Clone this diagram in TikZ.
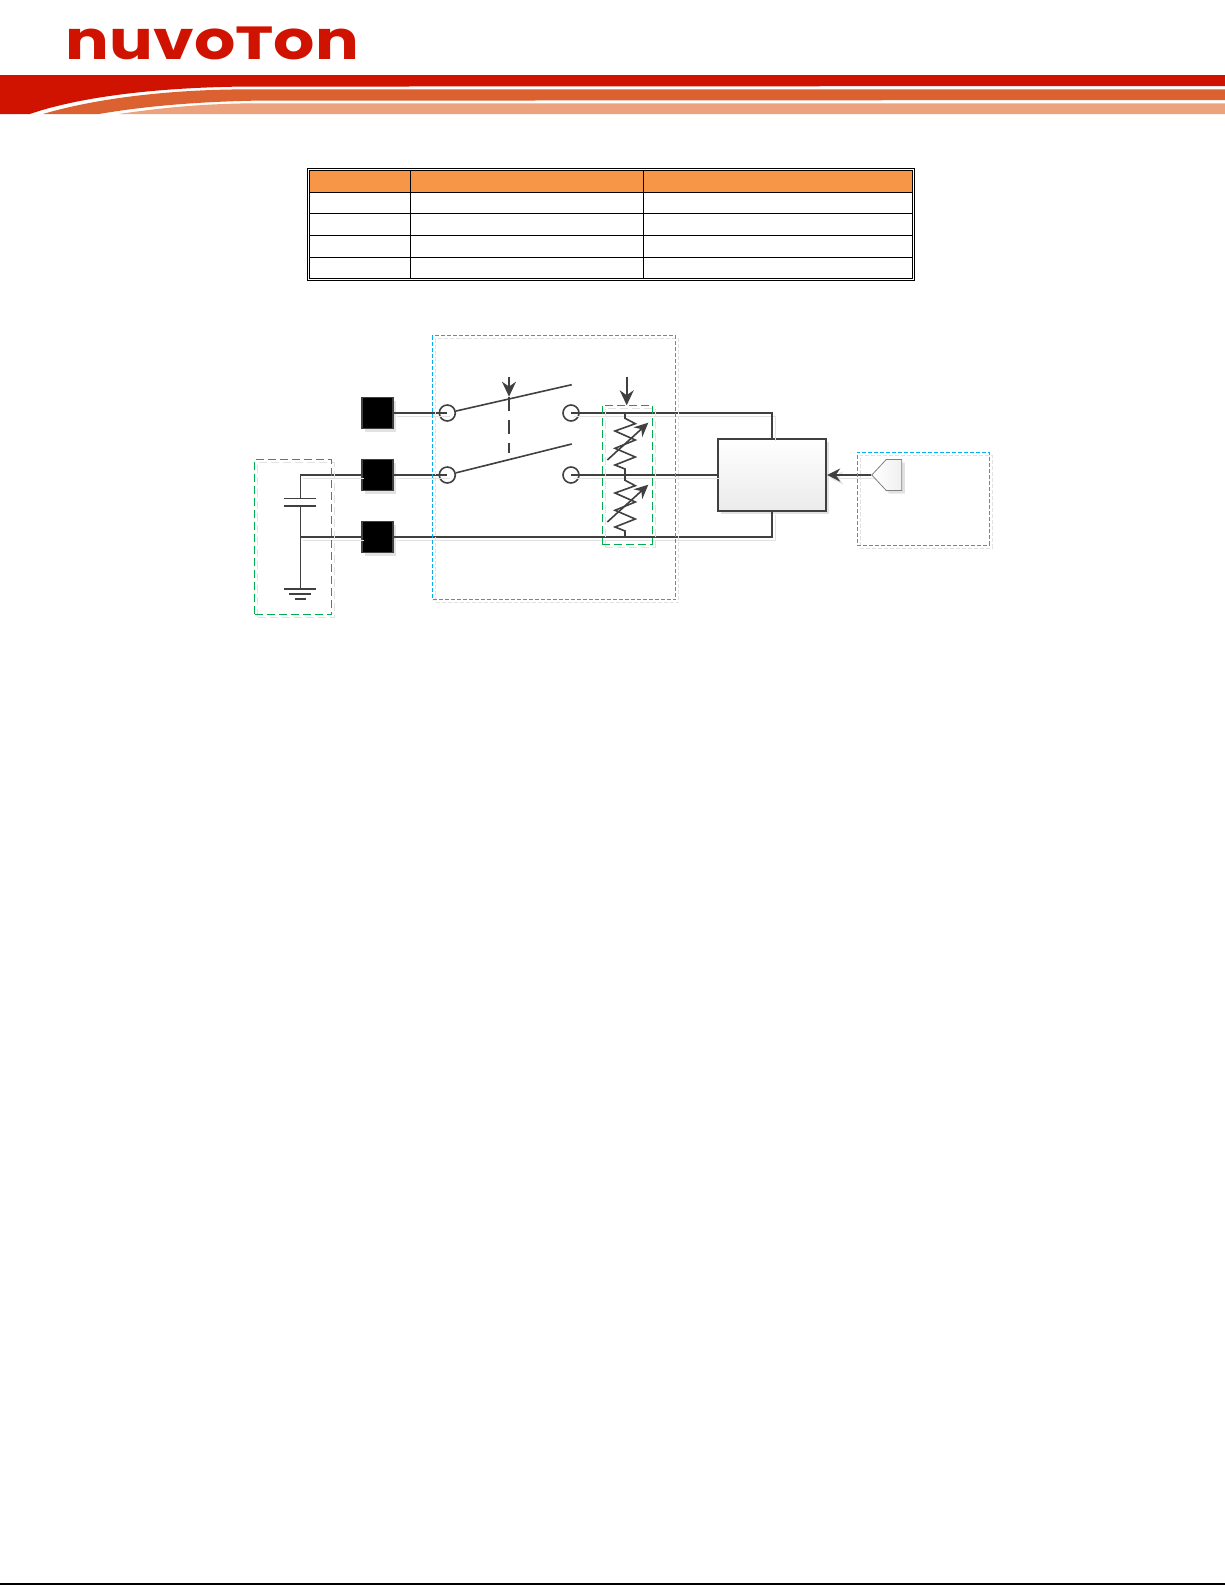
\documentclass[tikz,border=0pt]{standalone}
\usepackage{fontspec}
\newfontfamily\logofont{Poppins}
\usepackage{tikz}
\usetikzlibrary{arrows.meta}
\usetikzlibrary{shapes.symbols}
\definecolor{brandred}{HTML}{D01200}
\definecolor{brandmid}{HTML}{DB6230}
\definecolor{brandpale}{HTML}{ECA27C}
\definecolor{wirecol}{HTML}{404040}
\definecolor{shadecol}{HTML}{E2E2E2}
\definecolor{headcol}{HTML}{F79646}
\definecolor{groupblue}{HTML}{00B0F0}
\definecolor{groupgreen}{HTML}{00B050}
\tikzstyle{shade line}=[preaction={draw=shadecol,transform canvas={xshift=3pt,yshift=-3pt}}]
\tikzstyle{wire}=[draw=wirecol,line width=2.2pt,shade line]
\tikzstyle{thinwire}=[draw=wirecol,line width=1.6pt]
\tikzstyle{pad}=[draw=wirecol,fill=black,line width=1.8pt,minimum size=31pt,inner sep=0pt,
  preaction={fill=shadecol,transform canvas={xshift=3pt,yshift=-3pt}}]
\tikzstyle{contact}=[circle,draw=wirecol,line width=1.6pt,minimum size=16pt,inner sep=0pt]
\tikzstyle{blockbox}=[draw=wirecol,line width=1.8pt,top color=white,bottom color=black!8,
  minimum width=108pt,minimum height=72pt,inner sep=0pt,
  preaction={fill=shadecol,transform canvas={xshift=3pt,yshift=-3pt}}]
\tikzstyle{bluegroup}=[draw=groupblue,line width=0.9pt,dash pattern=on 4pt off 2pt,inner sep=0pt,
  preaction={draw=shadecol,dash pattern=on 4pt off 2pt,transform canvas={xshift=3pt,yshift=-3pt}}]
\tikzstyle{greengroup}=[draw=groupgreen,line width=0.9pt,dash pattern=on 8pt off 4pt,inner sep=0pt,
  preaction={draw=shadecol,dash pattern=on 8pt off 4pt,transform canvas={xshift=3pt,yshift=-3pt}}]
\tikzstyle{plate}=[draw=wirecol,line width=1.2pt]
\tikzstyle{ctrl}=[-{Stealth[length=15pt,width=14pt]},wirecol,line width=1.6pt]
\begin{document}
\begin{tikzpicture}[x=1pt,y=-1pt]
\useasboundingbox (0,0) rectangle (1225,1585);
% page head
\fill[brandred] (0,75) -- (1225,75) -- (1225,86) -- (240,86.6) .. controls (140,88) and (70,100) .. (30,114) -- (0,114) -- cycle;
\fill[brandmid] (43,114) .. controls (90,100) and (160,90) .. (240,89.4) -- (1225,89.3) -- (1225,100) -- (253,100.7) .. controls (190,102) and (140,107) .. (99,114) -- cycle;
\fill[brandpale] (119,114) .. controls (160,108) and (200,103.8) .. (253,103.3) -- (1225,103.3) -- (1225,114) -- cycle;
\node [inner sep=0pt,text=brandred] (logo) at (212.5,43) {\resizebox{293pt}{32.6pt}{\logofont\bfseries nuvo\scalebox{1}[0.86]{T}on}};
\draw[black,line width=1.2pt] (0,1584) -- (1225,1584);
% table
\fill[headcol] (309.6,170.3) rectangle (912.4,192.3);
\draw[black,line width=0.8pt] (307.2,168.2) rectangle (914.6,280.4);
\draw[black,line width=0.8pt] (309.6,170.3) rectangle (912.4,278.3);
\foreach \rowy in {192.3,213.8,235.3,257.2}
  \draw[black,line width=0.8pt] (309.6,\rowy) -- (912.4,\rowy);
\foreach \colx in {410.4,643.5}
  \draw[black,line width=0.8pt] (\colx,170.3) -- (\colx,278.3);
% parts
\node [pad] (padA) at (377.7,413) {};
\node [pad] (padB) at (377.7,475) {};
\node [pad] (padC) at (377.7,537) {};
\node [contact] (swA) at (447.3,413) {};
\node [contact] (swB) at (447.3,475) {};
\node [contact] (swC) at (571,413) {};
\node [contact] (swD) at (571,475) {};
\node [blockbox] (block) at (772.2,475) {};
\node [signal,signal to=west,signal pointer angle=94,draw=black!50,line width=0.8pt,left color=white,right color=black!6,
  minimum width=30pt,minimum height=31pt,inner sep=0pt,
  preaction={fill=shadecol,transform canvas={xshift=3pt,yshift=-3pt}}] (tag) at (894,475) {};
\coordinate (capN) at (300.3,475);
\coordinate (capS) at (300.3,537);
\coordinate (plateN) at (300.3,498.3);
\coordinate (plateS) at (300.3,505.7);
\coordinate (gnd) at (300.3,588.7);
\coordinate (armA) at (571.7,384.7);
\coordinate (armB) at (571.7,444);
\coordinate (hinge) at (509,396.7);
\coordinate (hingeEnd) at (509,453.3);
\coordinate (hingeTop) at (509,376.7);
\coordinate (wiperTop) at (626.7,377.3);
\coordinate (wiperEnd) at (626.7,405.3);
% wires
\draw[wire] (padA) -- (swA.center);
\draw[wire] (capS) -- (padC);
\draw[wire] (padB) -- (swB.center);
\draw[wire] (capN) -- (padB);
\draw[wire] (swC.center) -| (block.north);
\draw[wire] (swD.center) -- (block.west);
\draw[wire] (padC) -| (block.south);
\draw[wire,-{Stealth[length=13pt,width=13pt]}] (tag.west) -- (block.east);
% capacitor and ground
\draw[thinwire] (capN) -- (plateN);
\draw[thinwire] (plateS) -- (gnd);
\draw[plate] (284.3,498.3) -- (316.3,498.3);
\draw[plate,line width=1.9pt] (284.3,505.7) -- (316.3,505.7);
\draw[plate,line width=1.9pt] (284.3,588.7) -- (316.3,588.7);
\draw[plate,line width=1.9pt] (289.3,593.7) -- (311.3,593.7);
\draw[plate,line width=1.9pt] (294.6,598.7) -- (306,598.7);
% switch
\draw[thinwire] (swA) -- (armA);
\draw[thinwire] (swB) -- (armB);
\draw[ctrl] (hingeTop) -- (hinge);
\draw[wirecol,line width=1.7pt,dash pattern=on 14pt off 9pt] (hinge) -- (hingeEnd);
\draw[ctrl] (wiperTop) -- (wiperEnd);
% two variable resistors
\foreach \ya in {413,475}{
  \draw[thinwire] (625,\ya) -- ++(0,5.3) -- ++(10.3,5.4) -- ++(-20.3,7.3) -- ++(20.3,9) -- ++(-20.3,8.3)
    -- ++(20.3,8.7) -- ++(-20.3,8) -- ++(10,4) -- ++(0,6);
  \draw[thinwire,-{Stealth[length=14pt,width=13pt]}] (607.3,\ya+47) -- (648.3,\ya+9.7);
}
% groups
\node [bluegroup,minimum width=243pt,minimum height=264pt] (switchgroup) at (554.2,467.5) {};
\node [bluegroup,minimum width=132pt,minimum height=93pt] (taggroup) at (923.3,498.8) {};
\node [greengroup,minimum width=77pt,minimum height=155.4pt] (capgroup) at (293.2,537) {};
\node [greengroup,minimum width=50pt,minimum height=139pt] (resgroup) at (627.3,474.8) {};
\end{tikzpicture}
\end{document}
